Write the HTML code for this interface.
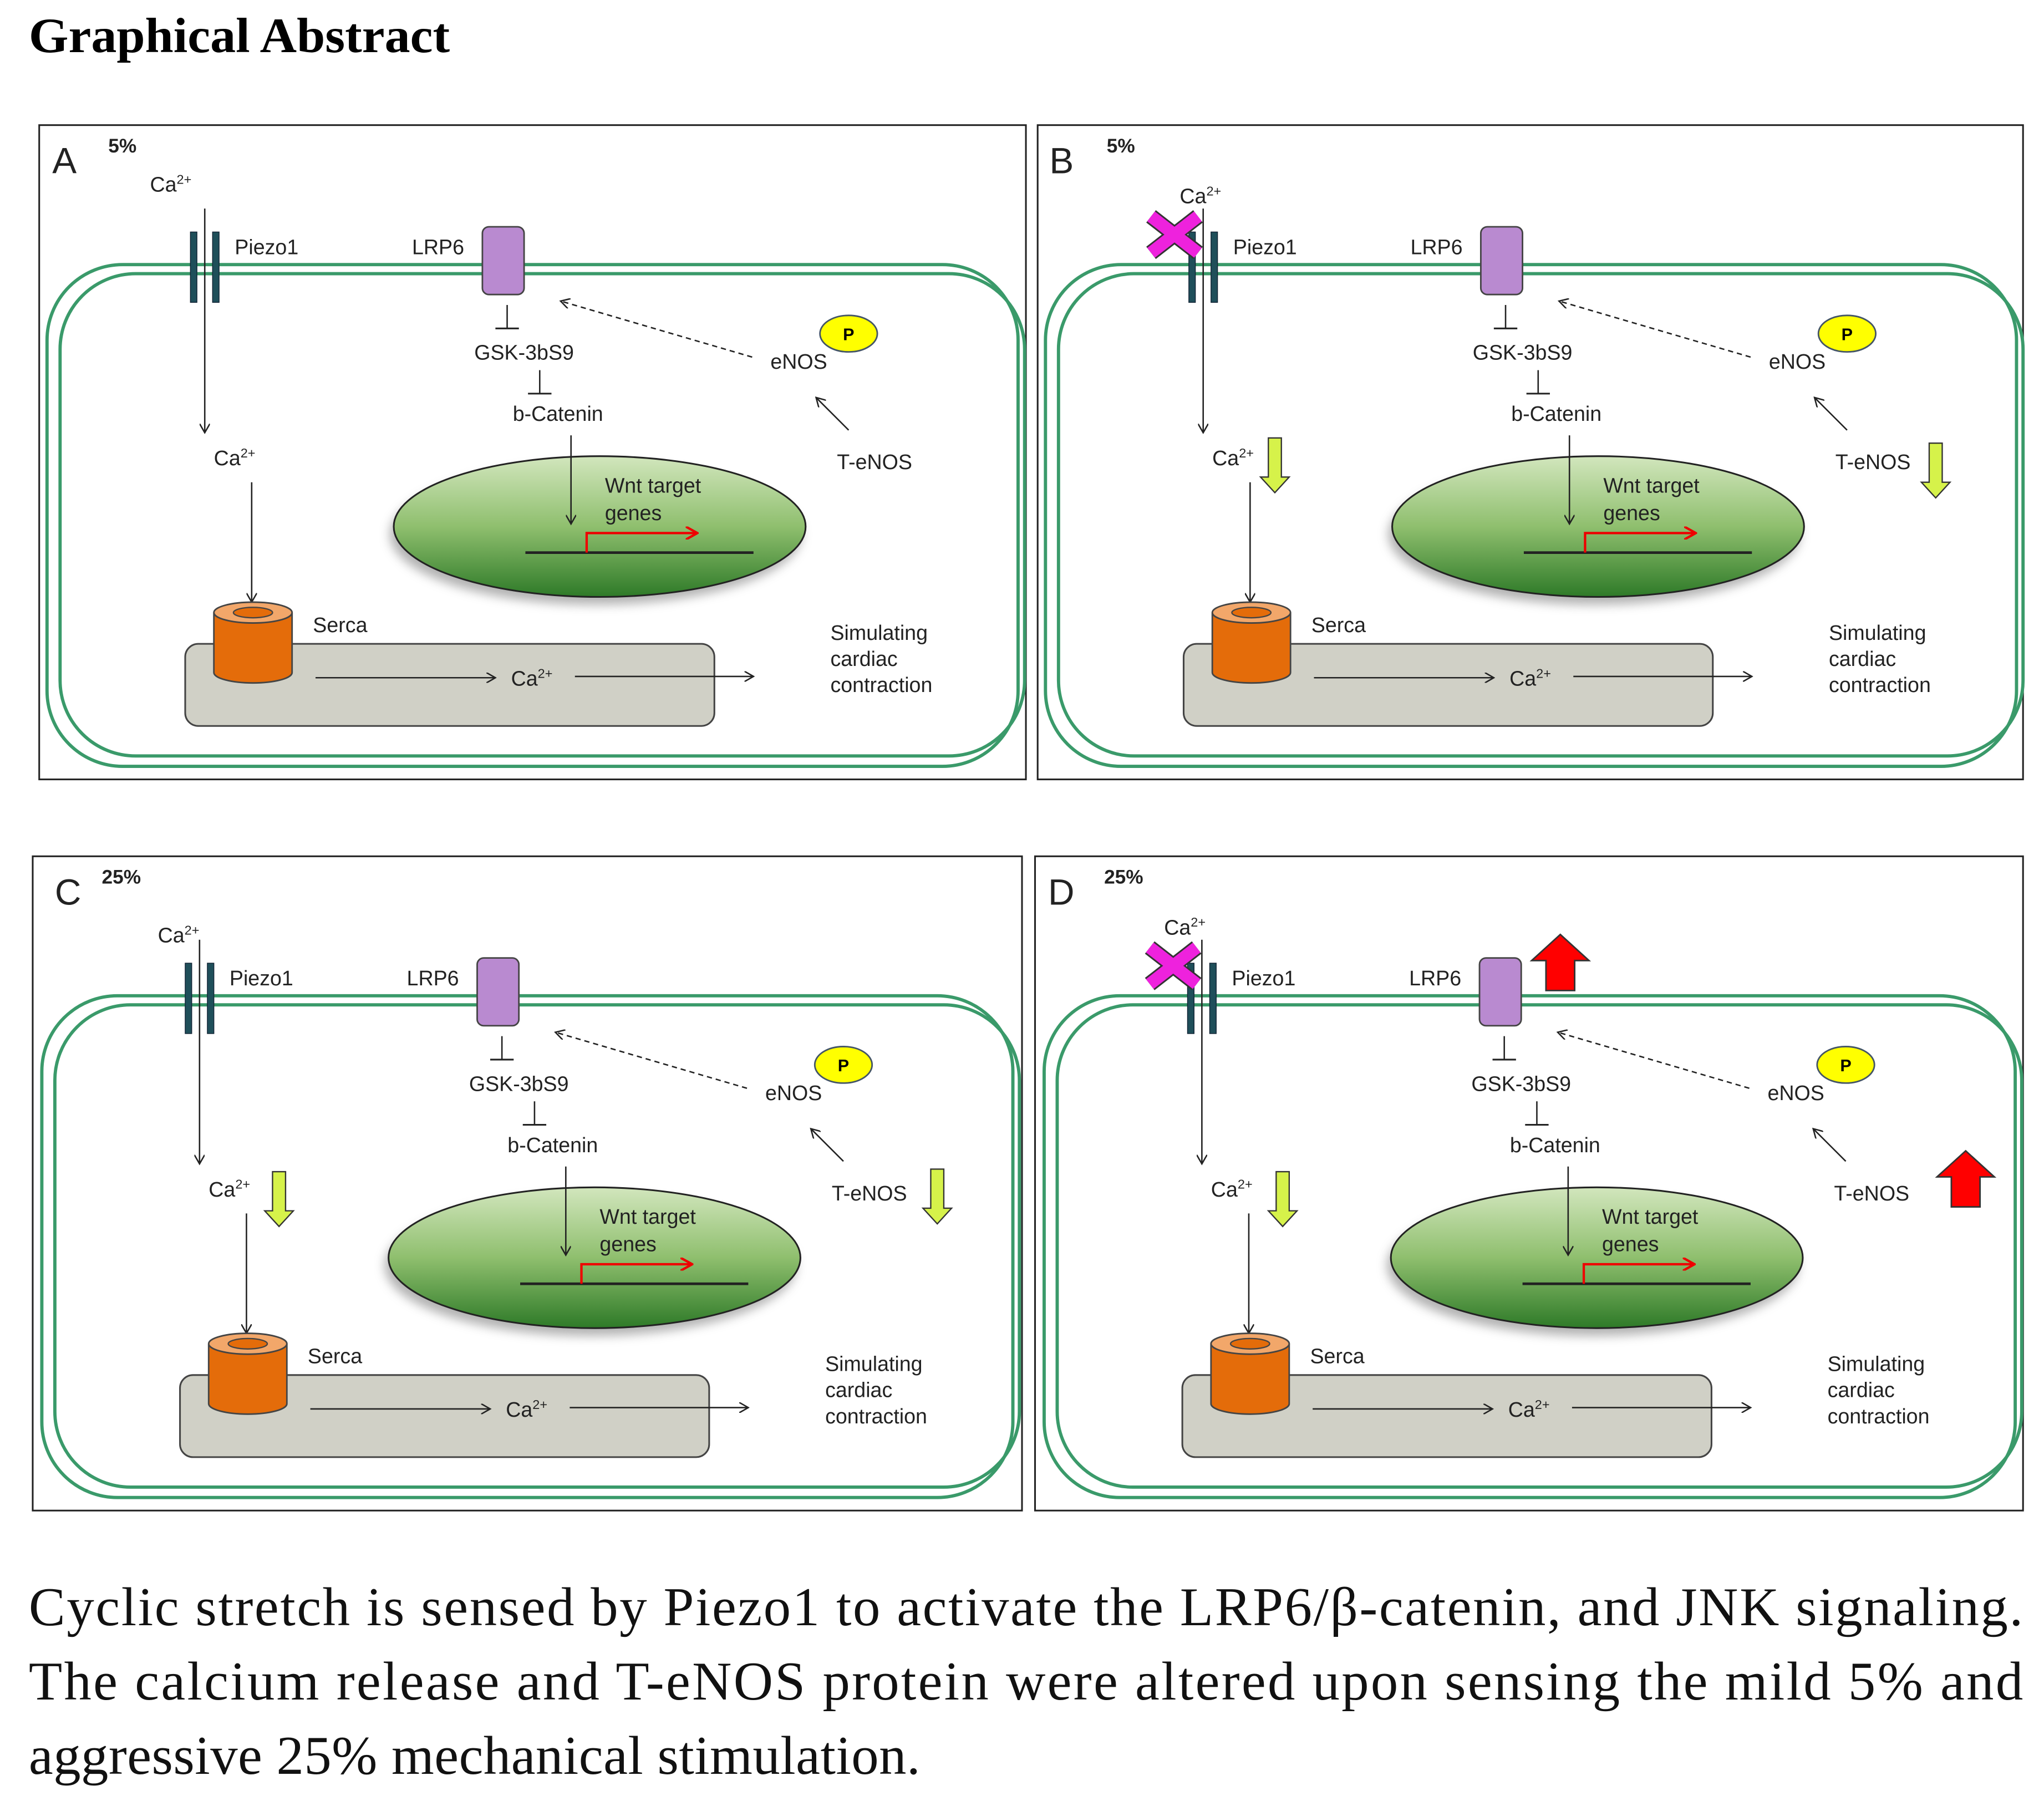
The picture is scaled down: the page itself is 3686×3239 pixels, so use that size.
<!DOCTYPE html>
<html><head><meta charset="utf-8"><style>
html,body{margin:0;padding:0;background:#fff;}
svg{display:block;}
.s{font-family:"Liberation Sans",sans-serif;fill:#222;}
</style></head><body>
<svg width="3686" height="3239" viewBox="0 0 1568 1378" xmlns="http://www.w3.org/2000/svg">
<defs>
<linearGradient id="nuc" x1="0" y1="0" x2="0" y2="1">
<stop offset="0" stop-color="#d2e6bd"/><stop offset="0.5" stop-color="#8fbf6e"/><stop offset="1" stop-color="#2e7a28"/>
</linearGradient>
<filter id="sh" x="-20%" y="-20%" width="140%" height="150%"><feGaussianBlur stdDeviation="4"/></filter>
<marker id="ah" markerWidth="8" markerHeight="8" refX="7" refY="4" orient="auto" markerUnits="userSpaceOnUse"><path d="M0,0 L7,4 L0,8" fill="none" stroke="#222" stroke-width="1.1"/></marker>
<marker id="ahr" markerWidth="10" markerHeight="10" refX="9" refY="5" orient="auto" markerUnits="userSpaceOnUse"><path d="M0,0 L9,5 L0,10" fill="none" stroke="#e00" stroke-width="1.8"/></marker>
<g id="panel">
<rect x="6" y="107" width="745" height="385" rx="58" fill="none" stroke="#3a9a6a" stroke-width="2.5"/>
<rect x="16" y="114" width="740" height="370" rx="58" fill="none" stroke="#3a9a6a" stroke-width="2.5"/>
<rect x="116" y="82" width="5" height="54" fill="#1f4f5a" stroke="#123" stroke-width="0.6"/>
<rect x="133" y="82" width="5" height="54" fill="#1f4f5a" stroke="#123" stroke-width="0.6"/>
<text class="s" x="150" y="99" font-size="16">Piezo1</text>
<line x1="127" y1="64" x2="127" y2="236" stroke="#222" stroke-width="1.1" marker-end="url(#ah)"/>
<rect x="340" y="78" width="32" height="52" rx="5" fill="#b98ad0" stroke="#444" stroke-width="1.2"/>
<text class="s" x="286" y="99" font-size="16">LRP6</text>
<line x1="359" y1="138" x2="359" y2="156" stroke="#222" stroke-width="1.1"/>
<line x1="350" y1="156" x2="368" y2="156" stroke="#222" stroke-width="1.3"/>
<text class="s" x="372" y="180" font-size="16" text-anchor="middle">GSK-3bS9</text>
<line x1="384" y1="188" x2="384" y2="206" stroke="#222" stroke-width="1.1"/>
<line x1="375" y1="206" x2="393" y2="206" stroke="#222" stroke-width="1.3"/>
<text class="s" x="398" y="227" font-size="16" text-anchor="middle">b-Catenin</text>
<line x1="547" y1="178" x2="400" y2="135" stroke="#222" stroke-width="1.1" stroke-dasharray="4,3" marker-end="url(#ah)"/>
<text class="s" x="561" y="187" font-size="16">eNOS</text>
<ellipse cx="621" cy="160" rx="22" ry="14" fill="#ffff00" stroke="#456" stroke-width="1.2"/>
<text x="621" y="165" font-size="13" font-weight="bold" font-family="Liberation Sans,sans-serif" text-anchor="middle">P</text>
<line x1="621" y1="234" x2="596" y2="209" stroke="#222" stroke-width="1.1" marker-end="url(#ah)"/>
<text class="s" x="612" y="264" font-size="16">T-eNOS</text>
<text class="s" x="134" y="261" font-size="16">Ca<tspan font-size="10" dy="-6">2+</tspan></text>
<line x1="163" y1="274" x2="163" y2="366" stroke="#222" stroke-width="1.1" marker-end="url(#ah)"/>
<ellipse cx="427" cy="314" rx="158" ry="54" fill="#666" opacity="0.5" filter="url(#sh)"/>
<ellipse cx="430" cy="308" rx="158" ry="54" fill="url(#nuc)" stroke="#222" stroke-width="1.3"/>
<line x1="408" y1="238" x2="408" y2="306" stroke="#222" stroke-width="1.1" marker-end="url(#ah)"/>
<text class="s" x="434" y="282" font-size="16">Wnt target</text>
<text class="s" x="434" y="303" font-size="16">genes</text>
<line x1="373" y1="328" x2="548" y2="328" stroke="#222" stroke-width="2"/>
<path d="M420,328 V313 H505" fill="none" stroke="#e00" stroke-width="1.8" marker-end="url(#ahr)"/>
<rect x="112" y="398" width="406" height="63" rx="10" fill="#d0d0c6" stroke="#444" stroke-width="1.3"/>
<path d="M134,374 V420 A30,8 0 0 0 194,420 V374" fill="#e46c0a" stroke="#444" stroke-width="1.2"/>
<ellipse cx="164" cy="374" rx="30" ry="8" fill="#f2a76a" stroke="#444" stroke-width="1.2"/>
<ellipse cx="164" cy="374" rx="15" ry="4" fill="#e46c0a" stroke="#444" stroke-width="1"/>
<text class="s" x="210" y="389" font-size="16">Serca</text>
<line x1="212" y1="424" x2="350" y2="424" stroke="#222" stroke-width="1.1" marker-end="url(#ah)"/>
<text class="s" x="362" y="430" font-size="16">Ca<tspan font-size="10" dy="-6">2+</tspan></text>
<line x1="411" y1="423" x2="548" y2="423" stroke="#222" stroke-width="1.1" marker-end="url(#ah)"/>
<text class="s" x="607" y="395" font-size="16">Simulating</text>
<text class="s" x="607" y="415" font-size="16">cardiac</text>
<text class="s" x="607" y="435" font-size="16">contraction</text>
</g>
<path id="garrow" d="M-5,0 H5 V30 H11 L0,42 L-11,30 H-5 Z" fill="#d6f24a" stroke="#333" stroke-width="1"/>
<path id="rarrow" d="M-11,43 V20 H-22 L0,0 L22,20 H11 V43 Z" fill="#f00" stroke="#333" stroke-width="1.2"/>
<g id="xmark"><path d="M-18,-14 L18,14 M18,-14 L-18,14" stroke="#333" stroke-width="12"/><path d="M-18,-14 L18,14 M18,-14 L-18,14" stroke="#ee22dd" stroke-width="9.5"/></g>
</defs>

<rect width="1568" height="1378" fill="#fff"/>
<text x="22" y="40" font-family="Liberation Serif,serif" font-size="38" font-weight="bold" textLength="323" lengthAdjust="spacingAndGlyphs">Graphical Abstract</text>

<rect x="30" y="96" width="757" height="502" fill="none" stroke="#222" stroke-width="1.3"/>
<g transform="translate(30,96)"><use href="#panel"/>
<text class="s" x="10" y="37" font-size="28">A</text>
<text class="s" x="53" y="21" font-size="15" font-weight="bold">5%</text>
<text class="s" x="85" y="51" font-size="16">Ca<tspan font-size="10" dy="-6">2+</tspan></text>
</g>

<rect x="796" y="96" width="756" height="502" fill="none" stroke="#222" stroke-width="1.3"/>
<g transform="translate(796,96)"><use href="#panel"/>
<text class="s" x="9" y="37" font-size="28">B</text>
<text class="s" x="53" y="21" font-size="15" font-weight="bold">5%</text>
<text class="s" x="109" y="60" font-size="16">Ca<tspan font-size="10" dy="-6">2+</tspan></text>
<use href="#xmark" x="105" y="84"/>
<use href="#garrow" x="182" y="240"/>
<use href="#garrow" x="689" y="244"/>
</g>

<rect x="25" y="657" width="759" height="502" fill="none" stroke="#222" stroke-width="1.3"/>
<g transform="translate(26,657)"><use href="#panel"/>
<text class="s" x="16" y="37" font-size="28">C</text>
<text class="s" x="52" y="21" font-size="15" font-weight="bold">25%</text>
<text class="s" x="95" y="66" font-size="16">Ca<tspan font-size="10" dy="-6">2+</tspan></text>
<use href="#garrow" x="188" y="242"/>
<use href="#garrow" x="693" y="240"/>
</g>

<rect x="794" y="657" width="758" height="502" fill="none" stroke="#222" stroke-width="1.3"/>
<g transform="translate(795,657)"><use href="#panel"/>
<text class="s" x="9" y="37" font-size="28">D</text>
<text class="s" x="52" y="21" font-size="15" font-weight="bold">25%</text>
<text class="s" x="98" y="60" font-size="16">Ca<tspan font-size="10" dy="-6">2+</tspan></text>
<use href="#xmark" x="105" y="84"/>
<use href="#rarrow" x="402" y="60"/>
<use href="#garrow" x="189" y="242"/>
<use href="#rarrow" x="713" y="226"/>
</g>

<g font-family="Liberation Serif,serif" font-size="42" fill="#111">
<text x="22" y="1247" textLength="1530" lengthAdjust="spacing">Cyclic stretch is sensed by Piezo1 to activate the LRP6/β-catenin, and JNK signaling.</text>
<text x="22" y="1304" textLength="1530" lengthAdjust="spacing">The calcium release and T-eNOS protein were altered upon sensing the mild 5% and</text>
<text x="22" y="1361" textLength="684" lengthAdjust="spacing">aggressive 25% mechanical stimulation.</text>
</g>
</svg>
</body></html>
